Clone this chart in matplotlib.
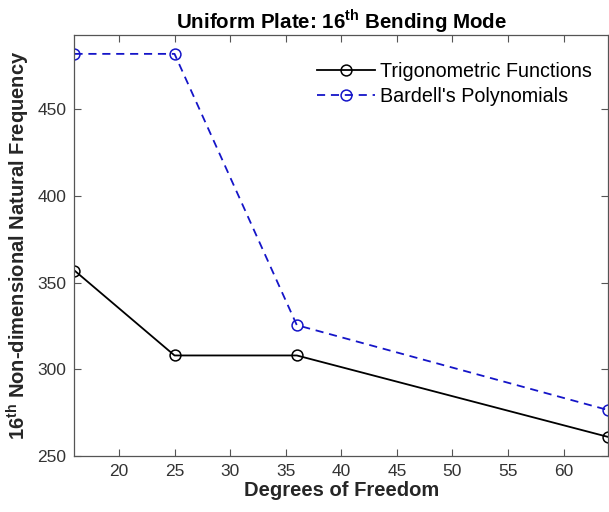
import matplotlib
matplotlib.use('Agg')
import matplotlib.pyplot as plt
import numpy as np

plt.rcParams['font.family'] = 'Liberation Sans'
plt.rcParams['mathtext.fontset'] = 'custom'
plt.rcParams['mathtext.rm'] = 'Liberation Sans'
plt.rcParams['mathtext.bf'] = 'Liberation Sans:bold'

# degrees of freedom and the 16th frequency from each basis
dof = [16, 25, 36, 64]
trig_freq = [357, 308, 308, 261]
bardell_freq = [482, 482, 325.5, 276.5]

x_ticks = [20, 25, 30, 35, 40, 45, 50, 55, 60]
y_ticks = [250, 300, 350, 400, 450]

fig = plt.figure(figsize=(6.09, 5.12), dpi=100)
ax = fig.add_axes([0.1223, 0.1094, 0.8762, 0.8216])

ax.plot(dof, trig_freq, '-o', color='black', lw=1.3, ms=7.8,
        mfc='none', mew=1.1, label='Trigonometric Functions')
ax.plot(dof, bardell_freq, '--o', color='#1515c8', lw=1.3, ms=7.8,
        mfc='none', mew=1.1, dashes=(4.5, 3.2), label="Bardell's Polynomials")

ax.set_xlim(16, 64)
ax.set_ylim(250, 492.7)
ax.set_xticks(x_ticks)
ax.set_yticks(y_ticks)

axis_color = '#555555'
for s in ax.spines.values():
    s.set_color(axis_color)
    s.set_linewidth(0.9)
ax.tick_params(direction='in', top=True, right=True, length=5,
               width=0.8, color=axis_color, labelsize=12.5,
               labelcolor='#333333', pad=6)

ax.set_xlabel('Degrees of Freedom', fontsize=14.5, fontweight='bold',
              color='#262626', labelpad=1)
ax.set_ylabel(r'16$^{\mathbf{th}}$ Non-dimensional Natural Frequency',
              fontsize=14.5, fontweight='bold', color='#262626', labelpad=4)
ax.set_title(r'Uniform Plate: 16$^{\mathbf{th}}$ Bending Mode',
             fontsize=14.8, fontweight='bold', color='black', pad=5)

ax.legend(loc='upper right', frameon=False, fontsize=14.2,
          handlelength=2.9, handletextpad=0.3, labelspacing=0.3,
          borderaxespad=0.4, bbox_to_anchor=(1.0, 0.975))

fig.savefig('out.png', dpi=100)
